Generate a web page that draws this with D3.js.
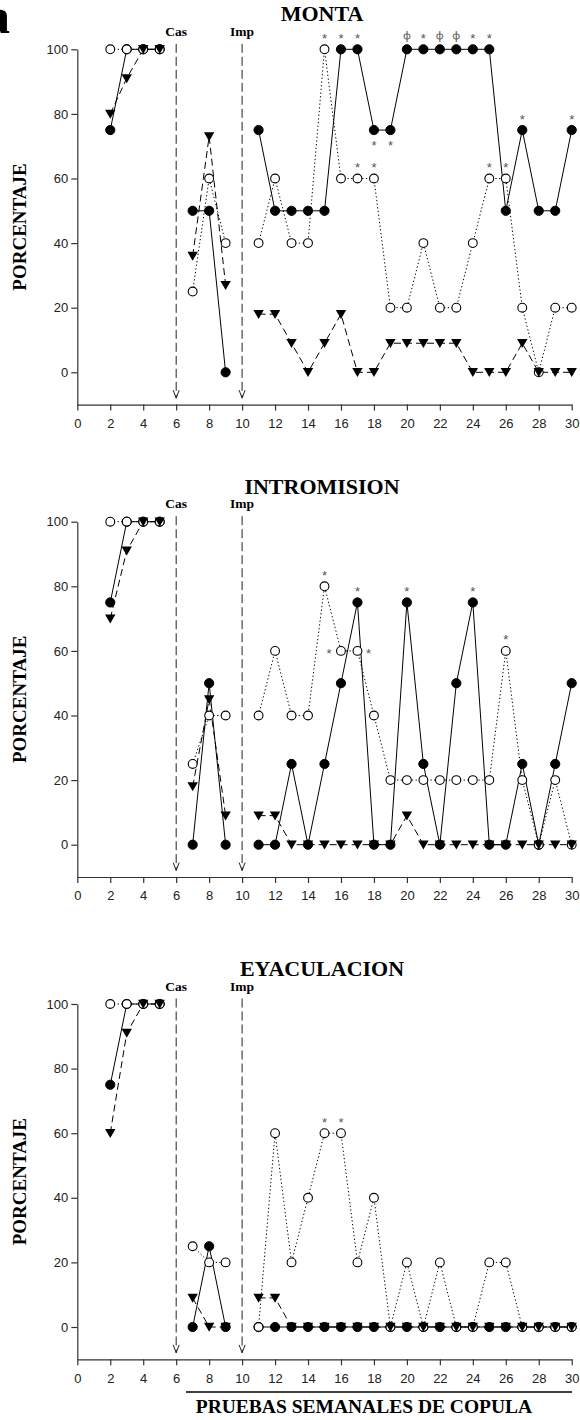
<!DOCTYPE html>
<html>
<head>
<meta charset="utf-8">
<script src="https://cdn.jsdelivr.net/npm/d3@7"></script>
<style>
  body { margin: 0; background: #fff; }
  svg { display: block; }
  .serif { font-family: "Liberation Serif", "Times New Roman", serif; font-weight: bold; }
  .sans { font-family: "Liberation Sans", Arial, sans-serif; }
  .phi { font-family: "Noto Sans", "Liberation Sans", sans-serif; }
</style>
</head>
<body>
<svg id="chart" width="580" height="1420"></svg>
<script>
// --- data: weekly copulation tests (percentage of animals) ---
const weeks = [2, 3, 4, 5, 7, 8, 9, 11, 12, 13, 14, 15, 16, 17, 18, 19, 20, 21, 22, 23, 24, 25, 26, 27, 28, 29, 30];
const xTicks = [0, 2, 4, 6, 8, 10, 12, 14, 16, 18, 20, 22, 24, 26, 28, 30];
const yTicks = [0, 20, 40, 60, 80, 100];
const events = [[6, "Cas"], [10, "Imp"]];

const montaFilled = [75, 100, 100, 100, 50, 50, 0, 75, 50, 50, 50, 50, 100, 100, 75, 75, 100, 100, 100, 100, 100, 100, 50, 75, 50, 50, 75];
const montaOpen   = [100, 100, 100, 100, 25, 60, 40, 40, 60, 40, 40, 100, 60, 60, 60, 20, 20, 40, 20, 20, 40, 60, 60, 20, 0, 20, 20];
const montaTri    = [80, 91, 100, 100, 36, 73, 27, 18, 18, 9, 0, 9, 18, 0, 0, 9, 9, 9, 9, 9, 0, 0, 0, 9, 0, 0, 0];
// [week, series, mark, where]
const montaMarks = [[15, "open", "*", "a"], [16, "filled", "*", "a"], [17, "filled", "*", "a"], [18, "filled", "*", "b"],
  [19, "filled", "*", "b"], [20, "filled", "ϕ", "a"], [21, "filled", "*", "a"], [22, "filled", "ϕ", "a"],
  [23, "filled", "ϕ", "a"], [24, "filled", "*", "a"], [25, "filled", "*", "a"], [17, "open", "*", "a"],
  [18, "open", "*", "a"], [25, "open", "*", "a"], [26, "open", "*", "a"], [27, "filled", "*", "a"], [30, "filled", "*", "a"]];

const intromFilled = [75, 100, 100, 100, 0, 50, 0, 0, 0, 25, 0, 25, 50, 75, 0, 0, 75, 25, 0, 50, 75, 0, 0, 25, 0, 25, 50];
const intromOpen   = [100, 100, 100, 100, 25, 40, 40, 40, 60, 40, 40, 80, 60, 60, 40, 20, 20, 20, 20, 20, 20, 20, 60, 20, 0, 20, 0];
const intromTri    = [70, 91, 100, 100, 18, 45, 9, 9, 9, 0, 0, 0, 0, 0, 0, 0, 9, 0, 0, 0, 0, 0, 0, 0, 0, 0, 0];
const intromMarks = [[15, "open", "*", "a"], [17, "filled", "*", "a"], [16, "open", "*", "l"], [17, "open", "*", "r"],
  [20, "filled", "*", "a"], [24, "filled", "*", "a"], [26, "open", "*", "a"]];

const eyacFilled = [75, 100, 100, 100, 0, 25, 0, 0, 0, 0, 0, 0, 0, 0, 0, 0, 0, 0, 0, 0, 0, 0, 0, 0, 0, 0, 0];
const eyacOpen   = [100, 100, 100, 100, 25, 20, 20, 0, 60, 20, 40, 60, 60, 20, 40, 0, 20, 0, 20, 0, 0, 20, 20, 0, 0, 0, 0];
const eyacTri    = [60, 91, 100, 100, 9, 0, 0, 9, 9, 0, 0, 0, 0, 0, 0, 0, 0, 0, 0, 0, 0, 0, 0, 0, 0, 0, 0];
const eyacMarks = [[15, "open", "*", "a"], [16, "open", "*", "a"]];

const panels = [
  { title: "MONTA", filled: montaFilled, open: montaOpen, tri: montaTri, marks: montaMarks, top: 49.3 },
  { title: "INTROMISION", filled: intromFilled, open: intromOpen, tri: intromTri, marks: intromMarks, top: 521.7 },
  { title: "EYACULACION", filled: eyacFilled, open: eyacOpen, tri: eyacTri, marks: eyacMarks, top: 1004 }
];

// --- layout ---
const svg = d3.select("#chart");
const plotH = 355.3;
const x = d3.scaleLinear().domain([0, 30]).range([77.3, 571.7]);
const segOf = w => (w < 6 ? 0 : w < 10 ? 1 : 2);
const lineStyles = {
  filled: null,
  open: "1.3,2.4",
  tri: "7,4"
};
const triPath = "M-5.2,-4.2L5.2,-4.2L0,4.8Z";

// figure letter, cropped at the left edge as in the source figure
svg.append("text").attr("class", "serif")
  .attr("x", 10).attr("y", 33)
  .attr("text-anchor", "end")
  .style("font-size", "50px")
  .text("a");

panels.forEach((p, i) => {
  const y = d3.scaleLinear().domain([-10, 100]).range([p.top + plotH, p.top]);
  const g = svg.append("g");

  // axes
  const ya = g.append("g").attr("transform", `translate(${x(0)},0)`)
    .call(d3.axisLeft(y).tickValues(yTicks).tickSize(6).tickSizeOuter(0).tickPadding(3));
  const xa = g.append("g").attr("transform", `translate(0,${y(-10)})`)
    .call(d3.axisBottom(x).tickValues(xTicks).tickSize(6).tickSizeOuter(0).tickPadding(8));
  [ya, xa].forEach(a => {
    a.selectAll("path, line").attr("stroke", "#333").attr("stroke-width", 1.2);
    a.selectAll("text").attr("class", "sans").attr("fill", "#222").style("font-size", "13px");
  });

  // title and y label
  g.append("text").attr("class", "serif")
    .attr("x", 322).attr("y", y(100) - 28)
    .attr("text-anchor", "middle").style("font-size", "22px")
    .text(p.title);
  g.append("text").attr("class", "serif")
    .attr("transform", `translate(26,${(y(100) + y(-10)) / 2}) rotate(-90)`)
    .attr("text-anchor", "middle").style("font-size", "19px")
    .text("PORCENTAJE");

  // castration / implant markers
  events.forEach(([w, label]) => {
    g.append("line")
      .attr("x1", x(w)).attr("x2", x(w))
      .attr("y1", y(100) - 5.5).attr("y2", y(-8))
      .attr("stroke", "#222").attr("stroke-width", 1)
      .attr("stroke-dasharray", "9,4");
    g.append("path")
      .attr("d", `M${x(w) - 3},${y(-8) - 8}L${x(w)},${y(-8)}L${x(w) + 3},${y(-8) - 8}`)
      .attr("fill", "none").attr("stroke", "#222").attr("stroke-width", 1);
    g.append("text").attr("class", "serif")
      .attr("x", x(w)).attr("y", y(100) - 13.3)
      .attr("text-anchor", "middle").style("font-size", "13.5px")
      .text(label);
  });

  // lines (broken at Cas and Imp)
  const line = d3.line().x(d => x(d.w)).y(d => y(d.v));
  const pts = key => weeks.map((w, j) => ({ w, v: p[key][j] }));
  ["filled", "open", "tri"].forEach(key => {
    d3.groups(pts(key), d => segOf(d.w)).forEach(([, seg]) => {
      g.append("path").attr("d", line(seg))
        .attr("fill", "none").attr("stroke", "#000").attr("stroke-width", 1)
        .attr("stroke-dasharray", lineStyles[key]);
    });
  });

  // markers: filled circles, open circles, then triangles on top
  g.selectAll(".fc").data(pts("filled")).join("circle")
    .attr("cx", d => x(d.w)).attr("cy", d => y(d.v)).attr("r", 4.6)
    .attr("fill", "#000").attr("stroke", "#000");
  g.selectAll(".oc").data(pts("open")).join("circle")
    .attr("cx", d => x(d.w)).attr("cy", d => y(d.v)).attr("r", 4.4)
    .attr("fill", "#fff").attr("stroke", "#000").attr("stroke-width", 1.1);
  g.selectAll(".tr").data(pts("tri")).join("path")
    .attr("d", triPath)
    .attr("transform", d => `translate(${x(d.w)},${y(d.v)})`)
    .attr("fill", "#000");

  // significance marks
  p.marks.forEach(([w, key, mark, where]) => {
    const v = p[key][weeks.indexOf(w)];
    let cx = x(w), cy = y(v);
    if (where === "a") cy -= 14;
    if (where === "b") cy += 12;
    if (where === "l") cx -= 12;
    if (where === "r") cx += 11;
    const isStar = mark === "*";
    g.append("text").attr("class", isStar ? "sans" : "phi")
      .attr("x", cx).attr("y", cy + (isStar ? 7.5 : 3.5))
      .attr("text-anchor", "middle")
      .attr("fill", "#555")
      .style("font-size", isStar ? "13px" : "11px")
      .text(mark);
  });

  if (i === 2) {
    g.append("line")
      .attr("x1", 186).attr("x2", 572)
      .attr("y1", 1392).attr("y2", 1392)
      .attr("stroke", "#000").attr("stroke-width", 1.3);
    g.append("text").attr("class", "serif")
      .attr("x", 364).attr("y", 1413)
      .attr("text-anchor", "middle").style("font-size", "19.5px")
      .text("PRUEBAS SEMANALES DE COPULA");
  }
});
</script>
</body>
</html>
